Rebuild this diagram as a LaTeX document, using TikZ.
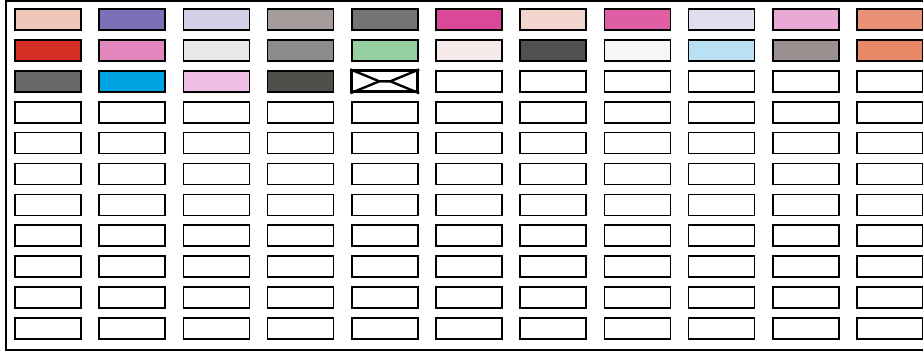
\documentclass[tikz,border=0pt]{standalone}
\usetikzlibrary{calc}
\definecolor{peach}{RGB}{240,198,184}
\definecolor{violet}{RGB}{124,112,184}
\definecolor{lavender}{RGB}{212,208,232}
\definecolor{mauve}{RGB}{166,156,156}
\definecolor{stone}{RGB}{116,116,114}
\definecolor{magenta}{RGB}{218,72,152}
\definecolor{blush}{RGB}{242,214,206}
\definecolor{pinkmag}{RGB}{224,94,164}
\definecolor{lilac}{RGB}{226,222,240}
\definecolor{orchid}{RGB}{232,170,212}
\definecolor{salmon}{RGB}{234,146,120}
\definecolor{brick}{RGB}{212,46,36}
\definecolor{rosepink}{RGB}{226,134,190}
\definecolor{mist}{RGB}{232,232,234}
\definecolor{midgrey}{RGB}{140,140,140}
\definecolor{mint}{RGB}{150,208,160}
\definecolor{paleblush}{RGB}{246,234,234}
\definecolor{charcoal}{RGB}{80,80,80}
\definecolor{offwhite}{RGB}{248,245,248}
\definecolor{sky}{RGB}{186,224,244}
\definecolor{greymauve}{RGB}{154,144,144}
\definecolor{coral}{RGB}{232,136,102}
\definecolor{slate}{RGB}{104,104,106}
\definecolor{cyanblue}{RGB}{0,164,226}
\definecolor{candy}{RGB}{240,190,226}
\definecolor{olivegrey}{RGB}{80,80,74}
\begin{document}
\begin{tikzpicture}[x=0.03cm,y=-0.03cm]
	\tikzset{cellbox/.style={draw, line width=1.4pt, rectangle, inner sep=0pt, minimum width=1.98cm, minimum height=0.63cm, fill=white}}
	\useasboundingbox (0,0) rectangle (923,353);
	\draw [line width=1.2pt] (6,1) rectangle (940,350);
	% coloured rows
	\foreach \c/\fillc in {1/peach,2/violet,3/lavender,4/mauve,5/stone,6/magenta,7/blush,8/pinkmag,9/lilac,10/orchid,11/salmon}
		\node [cellbox, fill=\fillc] (cell-1-\c) at ({48+84.2*(\c-1)},19.5) {};
	\foreach \c/\fillc in {1/brick,2/rosepink,3/mist,4/midgrey,5/mint,6/paleblush,7/charcoal,8/offwhite,9/sky,10/greymauve,11/coral}
		\node [cellbox, fill=\fillc] (cell-2-\c) at ({48+84.2*(\c-1)},50.4) {};
	\foreach \c/\fillc in {1/slate,2/cyanblue,3/candy,4/olivegrey,5/white,6/white,7/white,8/white,9/white,10/white,11/white}
		\node [cellbox, fill=\fillc] (cell-3-\c) at ({48+84.2*(\c-1)},81.3) {};
	% crossed cell
	\node [cellbox, line width=2.4pt] (cross) at (cell-3-5) {};
	\draw [line width=2pt] (cross.north west) -- ($(cross.west)!0.42!(cross.east)$) -- ($(cross.west)!0.58!(cross.east)$) -- (cross.north east);
	\draw [line width=2pt] (cross.south west) -- ($(cross.west)!0.42!(cross.east)$) -- ($(cross.west)!0.58!(cross.east)$) -- (cross.south east);
	% empty rows
	\foreach \r in {4,...,11}
		\foreach \c in {1,...,11}
			\node [cellbox] (cell-\r-\c) at ({48+84.2*(\c-1)},{19.5+30.9*(\r-1)}) {};
\end{tikzpicture}
\end{document}
